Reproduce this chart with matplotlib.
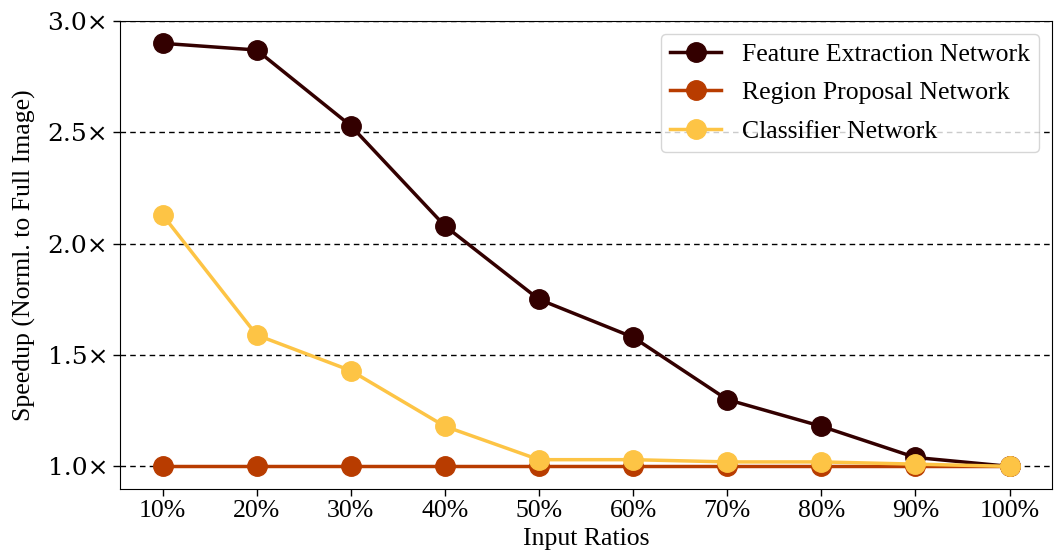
import matplotlib
matplotlib.use("Agg")
import matplotlib.pyplot as plt

ratios = ["10%", "20%", "30%", "40%", "50%", "60%", "70%", "80%", "90%", "100%"]
feature_extraction = [2.90, 2.87, 2.53, 2.08, 1.75, 1.58, 1.30, 1.18, 1.04, 1.00]
region_proposal = [1.00, 1.00, 1.00, 1.00, 1.00, 1.00, 1.00, 1.00, 1.00, 1.00]
classifier = [2.13, 1.59, 1.43, 1.18, 1.03, 1.03, 1.02, 1.02, 1.01, 1.00]

series_names = ["Feature Extraction Network", "Region Proposal Network", "Classifier Network"]
colors = ["#330000", "#b83c00", "#fdc445"]
yticks = [1.0, 1.5, 2.0, 2.5, 3.0]

plt.rcParams["font.family"] = ["Liberation Serif", "DejaVu Serif"]

fig, ax = plt.subplots(figsize=(10.54, 5.54), dpi=100)
x = list(range(1, len(ratios) + 1))

for y in yticks:
    ax.axhline(y, color="black", linestyle=(0, (4, 3)), linewidth=1.0, zorder=0)

for vals, name, c in zip([feature_extraction, region_proposal, classifier], series_names, colors):
    ax.plot(x, vals, color=c, linewidth=2.5, marker="o", markersize=14, label=name, zorder=3)

ax.set_xticks(x)
ax.set_xticklabels(ratios, fontsize=18.5)
ax.set_yticks(yticks)
ax.set_yticklabels([f"{v:.1f}\u00d7" for v in yticks], fontsize=18, family="DejaVu Serif")
ax.set_ylim(0.9, 3.0)
ax.set_xlim(0.55, 10.45)
ax.tick_params(axis="both", length=5, width=1)

ax.set_xlabel("Input Ratios", fontsize=18.5, labelpad=4)
ax.set_ylabel("Speedup (Norml. to Full Image)", fontsize=18.5, labelpad=8)

leg = ax.legend(loc="upper right", fontsize=18.5, framealpha=0.8, borderpad=0.35,
                handlelength=2.0, labelspacing=0.6, borderaxespad=0.5)

fig.subplots_adjust(left=0.114, right=0.998, top=0.962, bottom=0.118)
fig.savefig("out.png", dpi=100)
